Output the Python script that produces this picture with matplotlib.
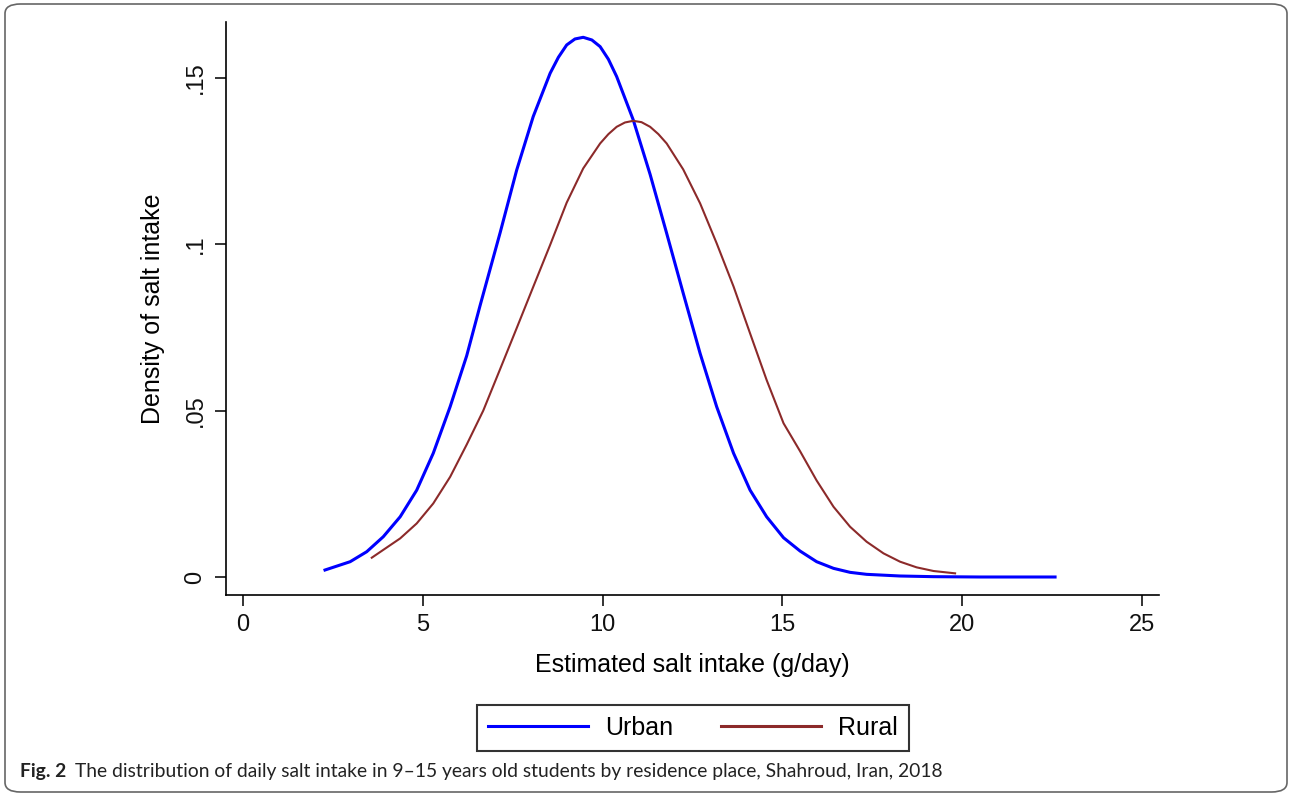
import matplotlib
matplotlib.use('Agg')
import matplotlib.pyplot as plt
from matplotlib.patches import FancyBboxPatch

# ── Data (kernel density curves) ──────────────────────────────────────────────
urban_x = [2.28, 2.98, 3.44, 3.90, 4.37, 4.83, 5.29, 5.76, 6.22, 6.59, 7.15,
           7.61, 8.07, 8.54, 8.77, 9.00, 9.23, 9.46, 9.70, 9.93, 10.16, 10.39,
           10.85, 11.32, 11.78, 12.24, 12.71, 13.17, 13.64, 14.10, 14.56, 15.03,
           15.49, 15.95, 16.42, 16.88, 17.34, 18.27, 19.20, 20.50, 22.58]
urban_y = [0.0021, 0.0046, 0.0076, 0.0121, 0.0181, 0.0261, 0.0372, 0.0512,
           0.0665, 0.0815, 0.1035, 0.1223, 0.1384, 0.1514, 0.1562, 0.1599,
           0.1617, 0.1622, 0.1614, 0.1594, 0.1556, 0.1504, 0.1374, 0.1210,
           0.1033, 0.0853, 0.0672, 0.0512, 0.0372, 0.0261, 0.0181, 0.0118,
           0.0078, 0.0046, 0.0026, 0.0014, 0.0008, 0.0003, 0.0001, 0.0000,
           0.0000]

rural_x = [3.58, 4.37, 4.83, 5.29, 5.76, 6.22, 6.68, 7.15, 7.61, 8.07, 8.54,
           9.00, 9.46, 9.93, 10.16, 10.39, 10.62, 10.85, 11.08, 11.32, 11.55,
           11.78, 12.24, 12.71, 13.17, 13.64, 14.10, 14.56, 15.03, 15.49, 15.95,
           16.42, 16.88, 17.34, 17.81, 18.27, 18.73, 19.20, 19.80]
rural_y = [0.0058, 0.0116, 0.0161, 0.0221, 0.0301, 0.0398, 0.0500, 0.0625,
           0.0748, 0.0872, 0.0998, 0.1125, 0.1228, 0.1303, 0.1331, 0.1353,
           0.1366, 0.1371, 0.1367, 0.1353, 0.1331, 0.1303, 0.1225, 0.1123,
           0.1003, 0.0873, 0.0732, 0.0592, 0.0462, 0.0378, 0.0290, 0.0211,
           0.0151, 0.0106, 0.0071, 0.0046, 0.0029, 0.0018, 0.0011]

x_ticks = [0, 5, 10, 15, 20, 25]
y_ticks = [0, 0.05, 0.10, 0.15]
y_tick_labels = ['0', '.05', '.1', '.15']

W, H = 1290, 796
plt.rcParams['font.family'] = ['Liberation Sans', 'DejaVu Sans']

fig = plt.figure(figsize=(W / 100, H / 100), dpi=100)
ax = fig.add_axes([226 / W, 1 - 595 / H, (1159 - 226) / W, (595 - 22) / H])

ax.plot(urban_x, urban_y, color='#0000ff', lw=2.2, label='Urban')
ax.plot(rural_x, rural_y, color='#8c2a2a', lw=1.5, label='Rural')

ax.set_xlim(-0.473, 25.47)
ax.set_ylim(-0.00541, 0.1668)
ax.set_xticks(x_ticks)
ax.set_yticks(y_ticks)
ax.set_yticklabels(y_tick_labels, rotation=90, va='center')
ax.tick_params(axis='both', length=8, width=1.2, labelsize=17, colors='#111111')
ax.tick_params(axis='y', pad=6)
ax.tick_params(axis='x', pad=6)
for s in ['top', 'right']:
    ax.spines[s].set_visible(False)
for s in ['left', 'bottom']:
    ax.spines[s].set_linewidth(1.2)
ax.set_xlabel('Estimated salt intake (g/day)', fontsize=18, labelpad=12)
ax.set_ylabel('Density of salt intake', fontsize=18, labelpad=14)

leg = fig.legend(loc='center', bbox_to_anchor=(693 / W, 1 - 728 / H), ncol=2,
                 fontsize=18, handlelength=4.0, handletextpad=0.7,
                 columnspacing=1.9, frameon=True, fancybox=False,
                 borderpad=0.45)
leg.get_frame().set_edgecolor('black')
leg.get_frame().set_linewidth(1.5)
for line in leg.get_lines():
    line.set_linewidth(2.2)

# ── Caption ───────────────────────────────────────────────────────────────────
cap_font = ['Lato', 'DejaVu Sans']
t1 = fig.text(20 / W, 1 - 772 / H, 'Fig. 2', fontsize=13.9, fontweight='bold',
              family=cap_font, va='center', color='#222222')
fig.canvas.draw()
bb = t1.get_window_extent()
fig.text((bb.x1 + 9) / W, 1 - 772 / H,
         'The distribution of daily salt intake in 9\u201315 years old students '
         'by residence place, Shahroud, Iran, 2018',
         fontsize=13.9, family=cap_font, va='center', color='#222222')

# rounded frame round the whole picture
frame = FancyBboxPatch((5 / W, 4 / H), 1282 / W, 788 / H,
                       boxstyle='round,pad=0,rounding_size=0.012',
                       transform=fig.transFigure, fill=False,
                       edgecolor='#666666', lw=1.2)
fig.patches.append(frame)

fig.savefig('out.png', dpi=100)
